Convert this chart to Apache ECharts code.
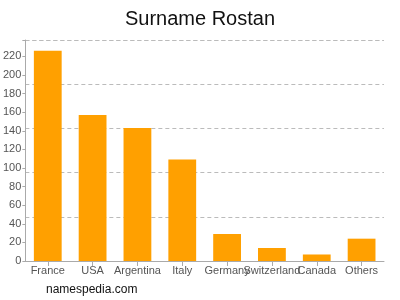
<!DOCTYPE html>
<html>
<head>
<meta charset="utf-8">
<script src="https://cdn.jsdelivr.net/npm/echarts@6/dist/echarts.min.js"></script>
<style>html,body{margin:0;padding:0;background:#fff}#c{width:400px;height:300px}</style>
</head>
<body>
<div id="c"></div>
<script>
const categories = ['France', 'USA', 'Argentina', 'Italy', 'Germany', 'Switzerland', 'Canada', 'Others'];
const counts = [226, 157, 143, 109, 29, 14, 7, 24];
const yMax = 237.6;
const yLabelStep = 20;
const gridSections = 5;

const chart = echarts.init(document.getElementById('c'), null, {renderer: 'canvas'});
chart.setOption({
  animation: false,
  backgroundColor: '#fff',
  title: {
    text: 'Surname Rostan',
    left: 'center',
    top: 4,
    textStyle: {fontFamily: 'Liberation Sans, Arial, sans-serif', fontSize: 20, fontWeight: 'normal', color: '#111'}
  },
  graphic: [{
    type: 'text', left: 46, top: 284,
    style: {text: 'namespedia.com', font: '12px "Liberation Sans", Arial, sans-serif', fill: '#111'}
  }],
  grid: {left: 24, right: 16, top: 40, bottom: 39, containLabel: false},
  xAxis: {
    type: 'category',
    data: categories,
    axisLine: {lineStyle: {color: '#aaa'}},
    axisTick: {show: true, alignWithLabel: true, lineStyle: {color: '#aaa'}},
    axisLabel: {interval: 0, color: '#555', fontSize: 11, fontFamily: 'Liberation Sans, Arial, sans-serif', margin: 4}
  },
  yAxis: [{
    type: 'value', min: 0, max: yMax, interval: yLabelStep,
    axisLine: {show: true, lineStyle: {color: '#aaa'}},
    axisTick: {show: true, length: 3, lineStyle: {color: '#aaa'}},
    splitLine: {show: false},
    axisLabel: {color: '#555', fontSize: 11, fontFamily: 'Liberation Sans, Arial, sans-serif', margin: 4,
      formatter: v => (Math.abs(v % yLabelStep) < 1e-6 ? String(v) : '')}
  }, {
    type: 'value', min: 0, max: yMax, interval: yMax / gridSections, position: 'left',
    axisLine: {show: false}, axisTick: {show: false}, axisLabel: {show: false},
    splitLine: {show: true, lineStyle: {color: '#bbb', type: [4, 3]}}
  }],
  series: [{
    type: 'bar',
    data: counts,
    barWidth: '62%',
    itemStyle: {color: '#FFA000'}
  }]
});
</script>
</body>
</html>
